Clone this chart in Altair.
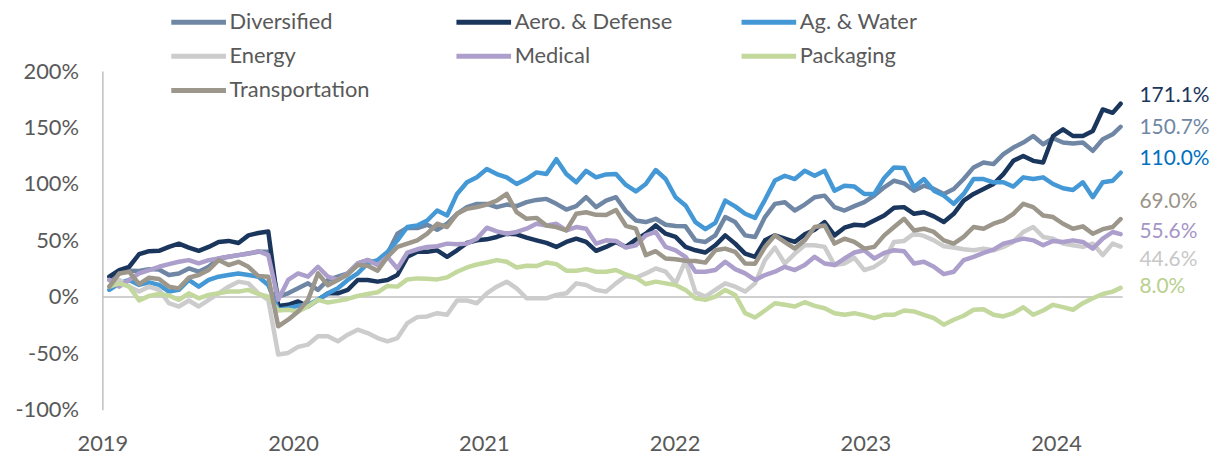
import altair as alt
import pandas as pd

# ---------------- data ----------------
series = ["Diversified", "Aero. & Defense", "Ag. & Water", "Energy",
          "Medical", "Packaging", "Transportation"]
line_colors = ["#6F87A5", "#1B365D", "#4498D5", "#CCCCCC",
               "#AD9FCC", "#C3D89D", "#9C968B"]
label_colors = ["#6F87A5", "#1B365D", "#0070C0", "#C8C8C8",
                "#A695C8", "#B9D08E", "#9A948A"]
end_labels = ["150.7%", "171.1%", "110.0%", "44.6%", "55.6%", "8.0%", "69.0%"]
# vertical position (in % units) of each end label
end_label_pos = [149.6, 177.7, 122.3, 32.5, 57.2, 8.8, 83.6]

# time axis in fractional years (roughly bi-weekly sampling)
t = [round(2019 + (7 + 10 * i) / 192, 4) for i in range(102)] + [2024.3385]

diversified = [
    15, 20.8, 23.2, 22.9, 24.6, 24.3, 19.4, 20.8, 25.2, 22.3, 26.7, 34, 35.5, 37, 38.4, 39.9, 39.9, 0.3, 3.2, 7.6,
    12, 6.2, 15, 17.9, 20.8, 29.6, 32.6, 29.6, 38.4, 56, 61.3, 61, 63.9, 59.5, 64.8, 73.6, 79.5, 82.4, 82.4, 79.5,
    81.8, 80.4, 83.9, 85.9, 86.8, 82.4, 77.4, 80.4, 88.3, 79.5, 85.3, 88.3, 76, 67.7, 66.3, 69.2, 63.9, 62.8, 62.5, 50.1,
    48.7, 54.5, 70.7, 66.3, 54.5, 53.1, 70.7, 82.4, 83.9, 76.5, 81.8, 88.3, 89.7, 79.5, 76.5, 80.4, 83.9, 89.7, 97.1, 102.9,
    100.6, 94.1, 98.5, 95.6, 91.2, 95.6, 104.4, 114.7, 119.1, 117.6, 126.4, 132.3, 136.7, 142.5, 135.2, 140.5, 136.7, 135.8, 136.7, 129.3, 139.6,
    144, 150.7]
aero = [
    17.9, 23.8, 26.7, 37.8, 40.5, 40.8, 44.3, 47.2, 43.7, 40.8, 44.3, 48.7, 49.6, 47.8, 54.5, 56.6, 58, -8, -7, -4,
    -8.5, -2.6, 3.2, 3.2, 6.2, 15, 15, 13.5, 15, 19.4, 35.5, 39.9, 39.9, 41.3, 35.5, 41.3, 47.8, 50.1, 51, 53.1,
    56, 55.4, 52.5, 50.1, 47.8, 44.3, 48.7, 51.6, 48.7, 40.8, 44.3, 48.7, 44.3, 50.7, 56, 63.3, 56, 53.1, 44.3, 41.3,
    39.3, 45.7, 54.5, 47.2, 38.4, 35.5, 50.1, 54.5, 51.6, 48.7, 55.4, 59.5, 66.3, 54.5, 61.3, 63.9, 63.3, 67.7, 72.1, 78.9,
    79.5, 73.6, 75, 71.3, 66.3, 73.6, 85.3, 91.2, 95.6, 100, 108.8, 120.5, 124.9, 120.5, 119, 142.5, 148.4, 142.5, 142.5, 146.9, 166,
    163, 171.1]
ag_water = [
    6.2, 12, 15, 10.6, 12.9, 10.6, 4.7, 6.2, 15, 9.1, 15, 17.9, 19.4, 20.8, 19.4, 17.9, 10.6, -11.4, -10, -7.9,
    -7, -2.6, 3.2, 7.6, 15, 20.8, 29.6, 32.6, 39.9, 50.1, 61.9, 63.3, 67.7, 76.5, 72.1, 91.2, 101.5, 105.9, 113.2, 108.8,
    105.9, 100, 104.4, 110.3, 108.8, 122, 108.8, 101.5, 111.7, 105.9, 108.5, 108.8, 99.2, 93.4, 100, 112.4, 104.4, 88.3, 81, 66.2,
    60, 65.5, 85.3, 80.2, 73.6, 70, 86, 103, 107.3, 104.4, 111.7, 107.3, 111.7, 94.1, 98.5, 97.7, 91.2, 91.2, 105.3, 114.7,
    114.1, 97.1, 104.4, 94.1, 89.7, 82.4, 91.2, 104.4, 104.4, 101.5, 101.5, 97.7, 105.9, 104.4, 105.9, 100, 96.2, 94.7, 101.5, 88.3, 101.5,
    102.9, 110]
energy = [
    9.1, 15, 9.1, 4.7, 9.1, 6.2, -5.6, -8.5, -3.2, -8.5, -2.6, 3.2, 9.1, 13.5, 12, 3.2, -2.6, -51, -49.6, -44.3,
    -42.2, -34.9, -34.9, -39.3, -33.4, -29, -32, -36.4, -39.3, -36.4, -23.2, -17.9, -17.3, -14.4, -15.8, -3.2, -3.2, -5.6, 3.2, 9.1,
    13.5, 7.6, -1.2, -1.2, -1.2, 1.8, 3.2, 12, 10.6, 6.2, 4.7, 12, 18.5, 17, 20.8, 25.2, 22.3, 12, 32, 4,
    0.3, 6.2, 12, 9.1, 4.7, 12, 32.6, 43.7, 29.6, 38.4, 45.7, 45.7, 44.3, 28.2, 29.6, 34.6, 23.8, 26.7, 32.6, 48.7,
    49.6, 56, 54, 50.1, 44.9, 43.7, 42.2, 41.3, 42.8, 41.3, 44.3, 48.7, 57.5, 61.9, 53.1, 51.6, 47.2, 45.7, 44.3, 47.2, 37,
    47.2, 44.6]
medical = [
    15, 9.1, 15, 20.8, 23.8, 26.7, 29, 31.1, 32.6, 29.6, 32.6, 34, 35.5, 37, 38.4, 40.5, 37, -2.6, 15, 20.8,
    17.9, 26.7, 17.9, 15, 20.8, 29.6, 32.6, 28.2, 35.5, 25.2, 39.3, 42.2, 44.3, 44.9, 47.2, 46.6, 47.2, 51.6, 61.3, 58.1,
    56, 57.5, 60.4, 64.8, 63.3, 64.8, 58.9, 61.9, 60.4, 47.2, 50.1, 49.6, 43.7, 45.7, 54.5, 57.5, 44.3, 41.3, 35.5, 22.3,
    22.3, 23.8, 31.1, 24.6, 20.8, 15, 19.4, 22.3, 26.7, 23.8, 28.2, 35.5, 29.6, 28.2, 34, 39.3, 41.3, 34, 39, 41.3,
    40.5, 29.6, 31.1, 26.7, 20.2, 22.3, 32.6, 35.5, 39, 41.9, 47.2, 49.3, 51.6, 50.1, 45.7, 49.6, 48.7, 50.1, 48.7, 42.8, 51.6,
    57.5, 55.6]
packaging = [
    9.1, 12, 9.1, -3.2, 0.9, 2.6, 1.2, -2.6, 3.2, -1.2, 1.8, 3.2, 4.7, 4.7, 6.2, 2.6, 0.3, -12, -11.4, -12.9,
    -8.5, -2.6, -5, -3.5, -1.8, 0.9, 2.6, 4.1, 9.7, 9.1, 15.5, 16.4, 16.1, 15.5, 17.3, 22.3, 26.1, 28.7, 30.5, 32.6,
    31.1, 26.1, 27.6, 27.3, 30.5, 29, 23.2, 23.2, 24.6, 22.3, 22.3, 23.8, 19.9, 17, 11.4, 13.5, 12, 10.6, 6.2, -1.2,
    -2.6, 0.3, 6.2, 1.8, -14.4, -18.2, -12, -5.6, -7, -8.5, -4.7, -7.9, -10, -14.4, -15.8, -14.4, -16.4, -18.8, -15.8, -15.8,
    -12, -12.9, -15.8, -18.8, -24.6, -20.2, -16.7, -11.4, -10.9, -15.8, -17.3, -14.4, -9.1, -15.8, -12, -7, -9.1, -11.4, -5.6, -1.2, 2.6,
    4.7, 8.0]
transportation = [
    9.1, 20.8, 22.3, 11.4, 17, 15.8, 9.1, 7.6, 17, 19.4, 23.8, 32.6, 28.2, 31.1, 26.7, 18.5, 17.9, -26, -20.2, -12.9,
    -2.6, 20.8, 10.3, 15, 19.9, 28.2, 27.6, 23.2, 35.5, 44.3, 47.2, 50.1, 56, 64.8, 61.9, 73.6, 78, 79.5, 81.8, 85.3,
    91.2, 75, 69.2, 70, 63.3, 61.9, 58.9, 73.6, 75, 72.7, 72.5, 77, 63, 60.4, 37, 40.5, 34, 33.3, 32, 31.8,
    30.4, 41.3, 42.8, 39.9, 29.6, 29.4, 44.2, 54.5, 48.6, 42.8, 50.1, 61.9, 63.3, 47.2, 51.6, 48.7, 42.8, 44.3, 54.5, 61.9,
    69.2, 58.9, 60.4, 57.5, 50.1, 47.2, 53.1, 61.9, 60.4, 64.8, 67.7, 73.6, 82.4, 79.5, 72.1, 70.7, 64.8, 60.4, 62.5, 56, 60,
    61.9, 69.0]

values = [diversified, aero, ag_water, energy, medical, packaging, transportation]

rows = []
for name, vals in zip(series, values):
    for tt, v in zip(t, vals):
        rows.append({"t": tt, "value": v, "series": name})
df = pd.DataFrame(rows)

lab = pd.DataFrame({
    "series": series,
    "label": end_labels,
    "pos": end_label_pos,
    "lc": label_colors,
    "t": [t[-1]] * len(series),
})

FONT = "Lato"
FS = 22
x_dom = [2019, 2019 + 1027 / 192]

x_scale = alt.Scale(domain=x_dom, nice=False, zero=False)
y_scale = alt.Scale(domain=[-100, 200], nice=False, zero=False)

lines = alt.Chart(df).mark_line(
    strokeWidth=4.5, strokeJoin="round", strokeCap="round"
).encode(
    x=alt.X("t:Q", scale=x_scale,
            axis=alt.Axis(values=[2019, 2020, 2021, 2022, 2023, 2024], format="d",
                          domain=False, ticks=False, grid=False, title=None,
                          labelFlush=False,
                          labelFont=FONT, labelFontSize=FS, labelColor="#595959",
                          labelPadding=24)),
    y=alt.Y("value:Q", scale=y_scale,
            axis=alt.Axis(values=[-100, -50, 0, 50, 100, 150, 200],
                          labelExpr="datum.value + '%'", grid=False, ticks=False,
                          domainColor="#BFBFBF", domainWidth=1.5, title=None,
                          labelFlush=False,
                          labelFont=FONT, labelFontSize=FS, labelColor="#595959",
                          labelPadding=24)),
    color=alt.Color("series:N",
                    scale=alt.Scale(domain=series, range=line_colors),
                    legend=alt.Legend(
                        title=None, orient="none", legendX=101, legendY=-63,
                        direction="horizontal",
                        columns=3, symbolType="M-4.1,0L0.9,0", symbolSize=484,
                        symbolStrokeWidth=5, labelFont=FONT, labelFontSize=FS,
                        labelColor="#595959", labelOffset=0, columnPadding=59,
                        rowPadding=9.5, gridAlign="all", padding=0)),
    order=alt.Order("series_idx:Q"),
).transform_calculate(
    series_idx="indexof(" + str(series) + ", datum.series)"
)

zero = alt.Chart(pd.DataFrame({"y": [0]})).mark_rule(
    color="#BFBFBF", strokeWidth=1.5
).encode(y=alt.Y("y:Q", scale=y_scale))

labels = alt.Chart(lab).mark_text(
    align="left", baseline="middle", dx=19, font=FONT, fontSize=21
).encode(
    x=alt.X("t:Q", scale=x_scale),
    y=alt.Y("pos:Q", scale=y_scale),
    text="label:N",
    color=alt.Color("lc:N", scale=None),
)

chart = alt.layer(zero, lines, labels).resolve_scale(color="independent").properties(
    width=1027, height=341,
    autosize=alt.AutoSizeParams(type="none"),
    padding={"left": 95, "top": 62, "right": 92, "bottom": 48},
).configure_view(stroke=None)

chart.save("out.html", embed_options={"renderer": "svg", "actions": False})
